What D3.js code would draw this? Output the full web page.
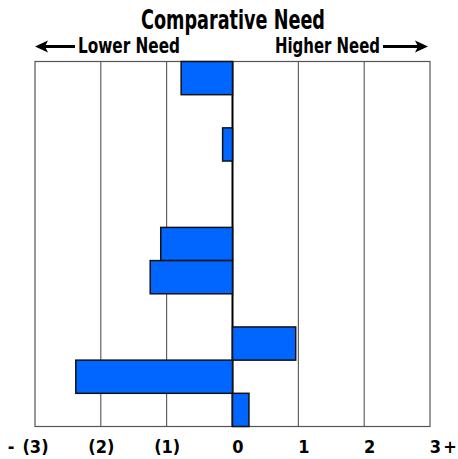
<!DOCTYPE html>
<html>
<head>
<meta charset="utf-8">
<script src="https://cdn.jsdelivr.net/npm/d3@7"></script>
<style>
  body { margin: 0; background: #fff; }
  text { font-family: Impact, 'Liberation Sans Narrow', 'DejaVu Sans Condensed', sans-serif; font-weight: bold; fill: #000; }
</style>
</head>
<body>
<svg id="chart" width="458" height="459"></svg>
<script>
// rows top to bottom, no labels shown in the picture
const categories = ['r1', 'r2', 'r3', 'r4', 'r5', 'r6', 'r7', 'r8', 'r9', 'r10', 'r11'];
const values = [-0.78, 0, -0.15, 0, 0, -1.09, -1.25, 0, 0.96, -2.38, 0.25];
const ticks = [-3, -2, -1, 0, 1, 2, 3];
const tickLabels = ['(3)', '(2)', '(1)', '0', '1', '2', '3'];

const svg = d3.select('#chart');
const plotLeft = 35, plotRight = 430, plotTop = 61.5, plotBottom = 426.5;

const x = d3.scaleLinear().domain([-3, 3]).range([plotLeft, plotRight]);
const y = d3.scaleBand().domain(categories).range([plotTop, plotBottom]).padding(0);

// vertical grid lines
svg.append('g')
  .selectAll('line')
  .data(ticks.slice(1, -1))
  .enter()
  .append('line')
  .attr('x1', d => x(d)).attr('x2', d => x(d))
  .attr('y1', plotTop).attr('y2', plotBottom)
  .attr('stroke', '#444')
  .attr('stroke-width', 1);

// frame
svg.append('rect')
  .attr('x', plotLeft).attr('y', plotTop)
  .attr('width', plotRight - plotLeft).attr('height', plotBottom - plotTop)
  .attr('fill', 'none')
  .attr('stroke', '#555')
  .attr('stroke-width', 1.2);

// zero line
svg.append('line')
  .attr('x1', x(0)).attr('x2', x(0))
  .attr('y1', plotTop).attr('y2', plotBottom)
  .attr('stroke', '#000')
  .attr('stroke-width', 2);

// bars
svg.append('g')
  .selectAll('rect')
  .data(values.map((v, i) => ({ cat: categories[i], v })).filter(d => d.v !== 0))
  .enter()
  .append('rect')
  .attr('x', d => x(Math.min(0, d.v)))
  .attr('y', d => y(d.cat))
  .attr('width', d => Math.abs(x(d.v) - x(0)))
  .attr('height', y.bandwidth())
  .attr('fill', '#0066ff')
  .attr('stroke', '#111')
  .attr('stroke-width', 1.5);

// bottom labels
const axis = d3.axisBottom(x)
  .tickValues(ticks)
  .tickSize(0)
  .tickFormat((d, i) => tickLabels[i]);

const ax = svg.append('g')
  .attr('transform', `translate(0,${plotBottom})`)
  .call(axis);
ax.select('.domain').remove();
ax.selectAll('text')
  .attr('y', 26)
  .attr('dy', 0)
  .attr('dx', d => (d >= 0 ? 5 : 0))
  .style('font-size', '18px')
  .style('font-family', "Impact, 'Liberation Sans Narrow', 'DejaVu Sans Condensed', sans-serif")
  .style('font-weight', 'bold')
  .attr('fill', '#000');

svg.append('text').attr('x', 11).attr('y', plotBottom + 26)
  .attr('text-anchor', 'middle').style('font-size', '18px').text('-');
svg.append('text').attr('x', 450).attr('y', plotBottom + 26)
  .attr('text-anchor', 'middle').style('font-size', '18px').text('+');

// title and direction hints
svg.append('text')
  .attr('x', 233).attr('y', 29)
  .attr('text-anchor', 'middle')
  .attr('textLength', 184)
  .attr('lengthAdjust', 'spacingAndGlyphs')
  .style('font-size', '27px')
  .text('Comparative Need');

svg.append('text')
  .attr('x', 78).attr('y', 53)
  .attr('textLength', 102)
  .attr('lengthAdjust', 'spacingAndGlyphs')
  .style('font-size', '21px')
  .text('Lower Need');

svg.append('text')
  .attr('x', 275).attr('y', 53)
  .attr('textLength', 105)
  .attr('lengthAdjust', 'spacingAndGlyphs')
  .style('font-size', '21px')
  .text('Higher Need');

// arrows
const ay = 46.5;
svg.append('line').attr('x1', 44).attr('x2', 75).attr('y1', ay).attr('y2', ay)
  .attr('stroke', '#000').attr('stroke-width', 3);
svg.append('path')
  .attr('d', `M35,${ay} L48,${ay - 6} L45,${ay} L48,${ay + 6} Z`)
  .attr('fill', '#000');
svg.append('line').attr('x1', 383).attr('x2', 419).attr('y1', ay).attr('y2', ay)
  .attr('stroke', '#000').attr('stroke-width', 3);
svg.append('path')
  .attr('d', `M428,${ay} L415,${ay - 6} L418,${ay} L415,${ay + 6} Z`)
  .attr('fill', '#000');
</script>
</body>
</html>
